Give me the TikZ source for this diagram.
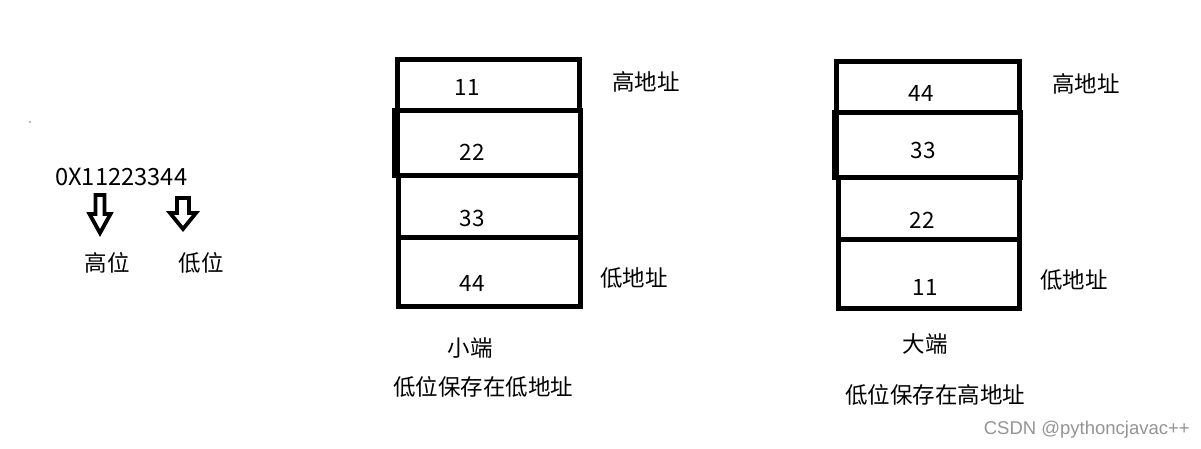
\documentclass[tikz,border=0pt]{standalone}
\usepackage{fontspec}
\setmainfont{Noto Sans CJK SC}
\newfontfamily\markfont{Liberation Sans}

\tikzset{
  cell/.style={line width=5pt},
  fatedge/.style={line width=7pt},
  txt/.style={inner sep=0pt, font=\fontsize{22.5}{27}\selectfont},
  hollow/.style={line width=3.8pt, line join=miter},
}

\begin{document}
\begin{tikzpicture}[x=1pt,y=-1pt]

  \useasboundingbox[fill=white] (0,0) rectangle (1201,449);

  % the little dot on the left
  \fill[black!55] (30,122) circle(0.8);

  % the number and its two ends
  \node[txt, anchor=west, font=\fontsize{23.7}{28}\selectfont] (num) at (55,177) {0X11223344};
  \node[txt] (hi) at (107,263) {高位};
  \node[txt] (lo) at (201,263) {低位};

  % hollow arrows under the number
  \foreach \px/\ptop/\pneck/\ptip/\pshaft/\phead in {
    100/195/214/233/4.5/10.5,
    183/198/213/229/6/13} {
      \draw[hollow] (\px-\pshaft,\ptop) -- (\px+\pshaft,\ptop) -- (\px+\pshaft,\pneck)
        -- (\px+\phead,\pneck) -- (\px,\ptip) -- (\px-\phead,\pneck)
        -- (\px-\pshaft,\pneck) -- cycle;
  }

  % draw the little endian memory
  \draw[cell] (397,59.5) rectangle (579,111);
  \draw[cell] (397,111) rectangle (580,175.5);
  \draw[cell] (398,175.5) rectangle (580,237);
  \draw[cell] (398,237) rectangle (580,306);
  \draw[fatedge] (395.5,108.5) -- (395.5,178);

  \node[txt] (l11) at (467,87) {11};
  \node[txt] (l22) at (472,152) {22};
  \node[txt] (l33) at (472,218) {33};
  \node[txt] (l44) at (472,283) {44};

  \node[txt] (hiL) at (646,82) {高地址};
  \node[txt] (loL) at (634,278) {低地址};
  \node[txt] (capL) at (470,348) {小端};
  \node[txt] (noteL) at (483,387) {低位保存在低地址};

  % draw the big endian memory
  \draw[cell] (836.5,61.5) rectangle (1019,113);
  \draw[cell] (836.5,113) rectangle (1020,178);
  \draw[cell] (838,178) rectangle (1019,239.5);
  \draw[cell] (838,239.5) rectangle (1019,308.5);
  \draw[fatedge] (835.5,110.5) -- (835.5,180);

  \node[txt] (r44) at (921,93) {44};
  \node[txt] (r33) at (923,150) {33};
  \node[txt] (r22) at (922,220) {22};
  \node[txt] (r11) at (925,287) {11};

  \node[txt] (hiR) at (1086,84) {高地址};
  \node[txt] (loR) at (1074,280) {低地址};
  \node[txt] (capR) at (925,344) {大端};
  \node[txt] (noteR) at (935,395) {低位保存在高地址};

  % watermark
  \node[inner sep=0pt, anchor=east, text=black!42, font=\markfont\fontsize{18.5}{22}\selectfont]
    (wm) at (1190,430) {CSDN @pythoncjavac++};

\end{tikzpicture}
\end{document}
